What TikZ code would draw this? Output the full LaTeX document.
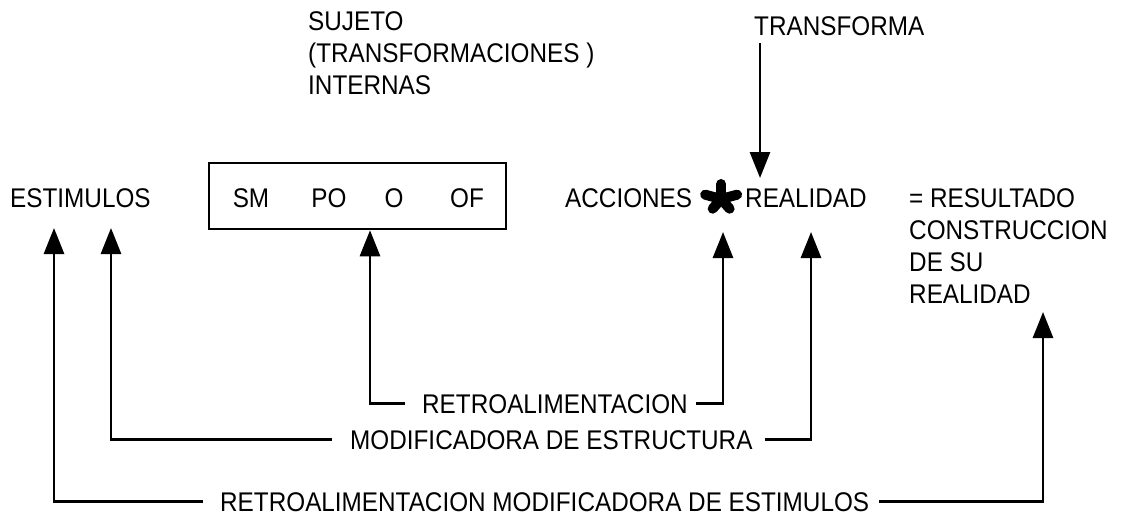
\documentclass[tikz,border=0pt]{standalone}
\usepackage{fontspec}
\setmainfont[FakeStretch=0.9]{Liberation Sans}
\usetikzlibrary{arrows.meta}
\begin{document}
\begin{tikzpicture}[x=1pt,y=-1pt,
  lbl/.style={inner sep=0pt, anchor=base west, font=\fontsize{27}{30}\selectfont},
  clbl/.style={inner sep=0pt, anchor=base, font=\fontsize{27}{30}\selectfont},
  arr/.style={line width=2.7pt, -{Triangle[length=26pt,width=20pt]}},
  brk/.style={line width=2.7pt}]
\useasboundingbox (0,0) rectangle (1127,520);
% top texts
\node[lbl] (suj1) at (308,30) {SUJETO};
\node[lbl] (suj2) at (308,62) {(TRANSFORMACIONES )};
\node[lbl] (suj3) at (308,94) {INTERNAS};
\node[lbl] (transf) at (754,35) {TRANSFORMA};
% main row
\node[lbl] (estim) at (10,207) {ESTIMULOS};
\node[draw, line width=2.5pt, minimum width=297pt, minimum height=66pt, inner sep=0pt] (box) at (357.5,196) {};
\node[clbl] (sm) at (251,207) {SM};
\node[clbl] (po) at (329,207) {PO};
\node[clbl] (o) at (394,207) {O};
\node[clbl] (of) at (467,207) {OF};
\node[lbl] (acc) at (565,207) {ACCIONES};
\node[inner sep=0pt, minimum size=36pt] (ast) at (721,199) {};
\begin{scope}[xscale=1.2]
\foreach \a/\l in {270/15, 198/14, 342/14, 126/12, 54/12}{
  \draw[line width=10pt, line cap=round] (ast.center) -- ++(\a:\l);
}
\end{scope}
\node[lbl] (real) at (745,207) {REALIDAD};
\node[lbl] (res1) at (909,207) {= RESULTADO};
\node[lbl] (res2) at (909,239) {CONSTRUCCION};
\node[lbl] (res3) at (909,271) {DE SU};
\node[lbl] (res4) at (909,303) {REALIDAD};
% feedback labels
\node[lbl] (retro1) at (422,413) {RETROALIMENTACION};
\node[lbl] (modif) at (350,449) {MODIFICADORA DE ESTRUCTURA};
\node[lbl] (retro2) at (220,511) {RETROALIMENTACION MODIFICADORA DE ESTIMULOS};
% arrow targets
\coordinate (tTop) at (760,43);
\coordinate (tTip) at (760,178);
\coordinate (tipAst) at (723,232);
\coordinate (tipReal) at (811,232);
\coordinate (tipE1) at (54,228);
\coordinate (tipE2) at (111,228);
\coordinate (tipRes) at (1043,312);
% connectors
\draw[arr] (tTop) -- (tTip);
\draw[arr] (retro1.west) ++(-17,0) -| ([xshift=12.5pt]box.south);
\draw[arr] (retro1.east) ++(8,0) -| (tipAst);
\draw[arr] (modif.west) ++(-18,0) -| (tipE2);
\draw[arr] (modif.east) ++(12,0) -| (tipReal);
\draw[arr] (retro2.west) ++(-17,0) -| (tipE1);
\draw[arr] (retro2.east) ++(10,0) -| (tipRes);
\end{tikzpicture}
\end{document}
